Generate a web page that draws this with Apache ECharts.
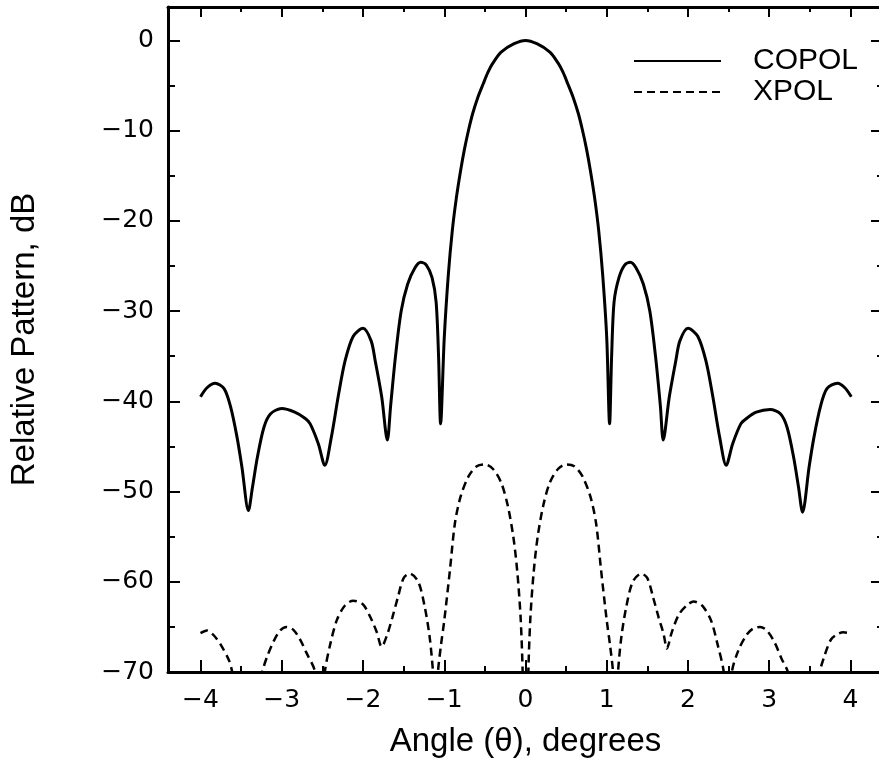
<!DOCTYPE html>
<html>
<head>
<meta charset="utf-8">
<script src="https://cdn.jsdelivr.net/npm/echarts@6/dist/echarts.min.js"></script>
<style>
html,body{margin:0;padding:0;background:#fff;overflow:hidden;}
#chart{width:890px;height:767px;}
</style>
</head>
<body>
<div id="chart"></div>
<script>
// ---- Data ----
var seriesNames = ['COPOL', 'XPOL'];

var copolAngle = [-4.00,-3.92,-3.82,-3.71,-3.63,-3.55,-3.49,-3.41,-3.36,-3.30,-3.22,-3.14,-3.00,-2.84,-2.71,-2.65,-2.55,-2.47,-2.39,-2.30,-2.22,-2.12,-2.00,-1.90,-1.85,-1.77,-1.70,-1.66,-1.60,-1.53,-1.45,-1.36,-1.29,-1.22,-1.15,-1.10,-1.07,-1.045,-1.00,-0.95,-0.90,-0.85,-0.80,-0.75,-0.70,-0.65,-0.59,-0.52,-0.46,-0.40,-0.30,-0.14,0.00,0.14,0.30,0.40,0.46,0.52,0.59,0.65,0.70,0.75,0.80,0.85,0.90,0.95,1.00,1.035,1.06,1.09,1.15,1.22,1.29,1.36,1.45,1.53,1.60,1.66,1.695,1.77,1.85,1.90,2.00,2.12,2.22,2.30,2.39,2.47,2.55,2.65,2.72,2.84,3.01,3.14,3.22,3.30,3.36,3.41,3.49,3.55,3.63,3.71,3.84,3.93,4.01];
var copolDb    = [-39.5,-38.5,-38.0,-38.6,-40.6,-44.0,-47.3,-52.1,-49.5,-46.2,-42.9,-41.4,-40.8,-41.2,-41.9,-42.5,-44.7,-47.1,-44.0,-39.2,-35.5,-32.8,-31.9,-33.3,-35.5,-39.5,-44.3,-40.5,-35.0,-30.0,-27.0,-25.2,-24.6,-24.9,-26.3,-29.0,-35.0,-42.5,-33.0,-26.0,-21.0,-17.4,-14.5,-12.0,-9.9,-8.1,-6.4,-4.8,-3.5,-2.5,-1.3,-0.37,0.0,-0.37,-1.3,-2.5,-3.5,-4.8,-6.4,-8.1,-9.9,-12.0,-14.5,-17.4,-21.0,-26.0,-33.0,-42.5,-35.0,-29.0,-26.3,-24.9,-24.6,-25.2,-27.0,-30.0,-35.0,-40.5,-44.3,-39.5,-35.5,-33.3,-31.9,-32.8,-35.5,-39.2,-44.0,-47.1,-44.7,-42.5,-41.9,-41.2,-40.9,-41.4,-42.9,-46.2,-49.5,-52.3,-47.3,-44.0,-40.6,-38.6,-38.0,-38.5,-39.5];

var xpolAngle = [-4.00,-3.92,-3.84,-3.75,-3.65,-3.61,-3.55,-3.43,-3.30,-3.24,-3.18,-3.10,-3.02,-2.94,-2.86,-2.78,-2.70,-2.59,-2.53,-2.47,-2.40,-2.32,-2.22,-2.12,-2.00,-1.89,-1.83,-1.77,-1.70,-1.64,-1.57,-1.50,-1.425,-1.32,-1.24,-1.18,-1.14,-1.10,-1.077,-1.04,-1.00,-0.93,-0.87,-0.80,-0.70,-0.60,-0.50,-0.40,-0.30,-0.22,-0.15,-0.10,-0.06,-0.035,0.00,0.035,0.06,0.10,0.15,0.22,0.30,0.40,0.50,0.60,0.70,0.80,0.87,0.93,1.00,1.04,1.077,1.10,1.14,1.18,1.24,1.32,1.425,1.50,1.57,1.64,1.70,1.74,1.80,1.89,2.00,2.07,2.17,2.28,2.36,2.44,2.49,2.54,2.62,2.72,2.80,2.89,2.98,3.07,3.15,3.23,3.30,3.43,3.55,3.62,3.68,3.76,3.84,3.91,4.00];
var xpolDb    = [-65.7,-65.4,-65.9,-67.0,-68.7,-70.0,-73.0,-80.0,-73.0,-70.0,-68.3,-66.6,-65.4,-65.0,-65.3,-66.3,-67.8,-70.0,-76.0,-70.0,-66.8,-64.2,-62.6,-62.1,-62.5,-64.3,-65.6,-67.2,-65.8,-64.0,-61.7,-59.6,-59.1,-60.0,-62.8,-66.1,-69.8,-75.0,-70.0,-67.0,-64.3,-58.7,-53.6,-50.6,-48.3,-47.2,-47.0,-47.5,-49.0,-51.5,-55.0,-59.0,-64.0,-70.0,-85.0,-70.0,-64.0,-59.0,-55.0,-51.5,-49.0,-47.5,-47.0,-47.2,-48.3,-50.6,-53.6,-58.7,-64.3,-67.0,-70.0,-75.0,-69.8,-66.1,-62.8,-60.0,-59.1,-59.6,-61.7,-64.0,-65.8,-67.4,-65.6,-63.6,-62.5,-62.2,-62.6,-64.2,-66.8,-70.0,-76.0,-70.0,-67.6,-65.9,-65.2,-65.0,-65.5,-66.8,-68.5,-70.0,-73.0,-80.0,-73.0,-70.0,-68.2,-66.4,-65.8,-65.6,-65.7];

var xMajorTicks = [-4,-3,-2,-1,0,1,2,3,4];
var xMinorTicks = [-3.5,-2.5,-1.5,-0.5,0.5,1.5,2.5,3.5];
var yMajorTicks = [-70,-60,-50,-40,-30,-20,-10,0];
var yMinorTicks = [-65,-55,-45,-35,-25,-15,-5];

var xTitle = 'Angle (\u03B8), degrees';
var yTitle = 'Relative Pattern, dB';

// ---- Build chart ----
function pairs(xs, ys){ var out=[]; for (var i=0;i<xs.length;i++) out.push([xs[i], ys[i]]); return out; }
function fmt(v){ return v < 0 ? '\u2212' + Math.abs(v) : String(v); }

var FONT = 'Liberation Sans';
var TICKFONT = 'DejaVu Sans';
var X_MIN = -4.4, X_MAX = 4.4, Y_MIN = -70, Y_MAX = 3.7;

function xAx(pos, ticks, len, showLine, labels){
  return {
    type:'value', min:X_MIN, max:X_MAX, position:pos,
    splitLine:{show:false},
    axisLine:{show:showLine, onZero:false, lineStyle:{color:'#000', width:3}},
    axisTick:{show:true, inside:true, length:len, customValues:ticks, lineStyle:{color:'#000', width:2}},
    axisLabel: labels ? {show:true, customValues:xMajorTicks, formatter:fmt, color:'#000', fontSize:25, fontFamily:TICKFONT, margin:16} : {show:false},
    name: labels ? xTitle : '',
    nameLocation:'middle', nameGap:53,
    nameTextStyle:{color:'#000', fontSize:33, fontFamily:FONT}
  };
}
function yAx(pos, ticks, len, showLine, labels){
  return {
    type:'value', min:Y_MIN, max:Y_MAX, position:pos,
    splitLine:{show:false},
    axisLine:{show:showLine, onZero:false, lineStyle:{color:'#000', width:3}},
    axisTick:{show:true, inside:true, length:len, customValues:ticks, lineStyle:{color:'#000', width:2}},
    axisLabel: labels ? {show:true, customValues:yMajorTicks, formatter:fmt, color:'#000', fontSize:25, fontFamily:TICKFONT, margin:14} : {show:false},
    name: labels ? yTitle : '',
    nameLocation:'middle', nameGap:127, nameRotate:90,
    nameTextStyle:{color:'#000', fontSize:33, fontFamily:FONT}
  };
}

var chart = echarts.init(document.getElementById('chart'), null, {renderer:'canvas'});
chart.setOption({
  animation:false,
  backgroundColor:'#fff',
  grid:{left:166, right:7, top:7, bottom:95, containLabel:false},
  legend:{
    data:seriesNames, orient:'vertical', left:628, top:41,
    itemWidth:87, itemHeight:14, itemGap:1,
    itemStyle:{opacity:0},
    textStyle:{color:'#000', fontSize:30, fontFamily:FONT, lineHeight:29, padding:[0,0,0,27]}
  },
  xAxis:[
    xAx('bottom', xMajorTicks, 12, true, true),
    xAx('bottom', xMinorTicks, 6, false, false),
    xAx('top', xMajorTicks, 10, true, false),
    xAx('top', xMinorTicks, 5, false, false)
  ],
  yAxis:[
    yAx('left', yMajorTicks, 12, true, true),
    yAx('left', yMinorTicks, 7, false, false),
    yAx('right', yMajorTicks, 12, true, false),
    yAx('right', yMinorTicks, 6, false, false)
  ],
  series:[
    {name:seriesNames[0], type:'line', xAxisIndex:0, yAxisIndex:0, data:pairs(copolAngle, copolDb),
     symbol:'none', smooth:0.3, clip:true, lineStyle:{color:'#000', width:3, type:'solid'}, itemStyle:{color:'#000'}},
    {name:seriesNames[1], type:'line', xAxisIndex:0, yAxisIndex:0, data:pairs(xpolAngle, xpolDb),
     symbol:'none', smooth:0.3, clip:true, lineStyle:{color:'#000', width:2.5, type:[8,5]}, itemStyle:{color:'#000'}}
  ]
});
</script>
</body>
</html>
